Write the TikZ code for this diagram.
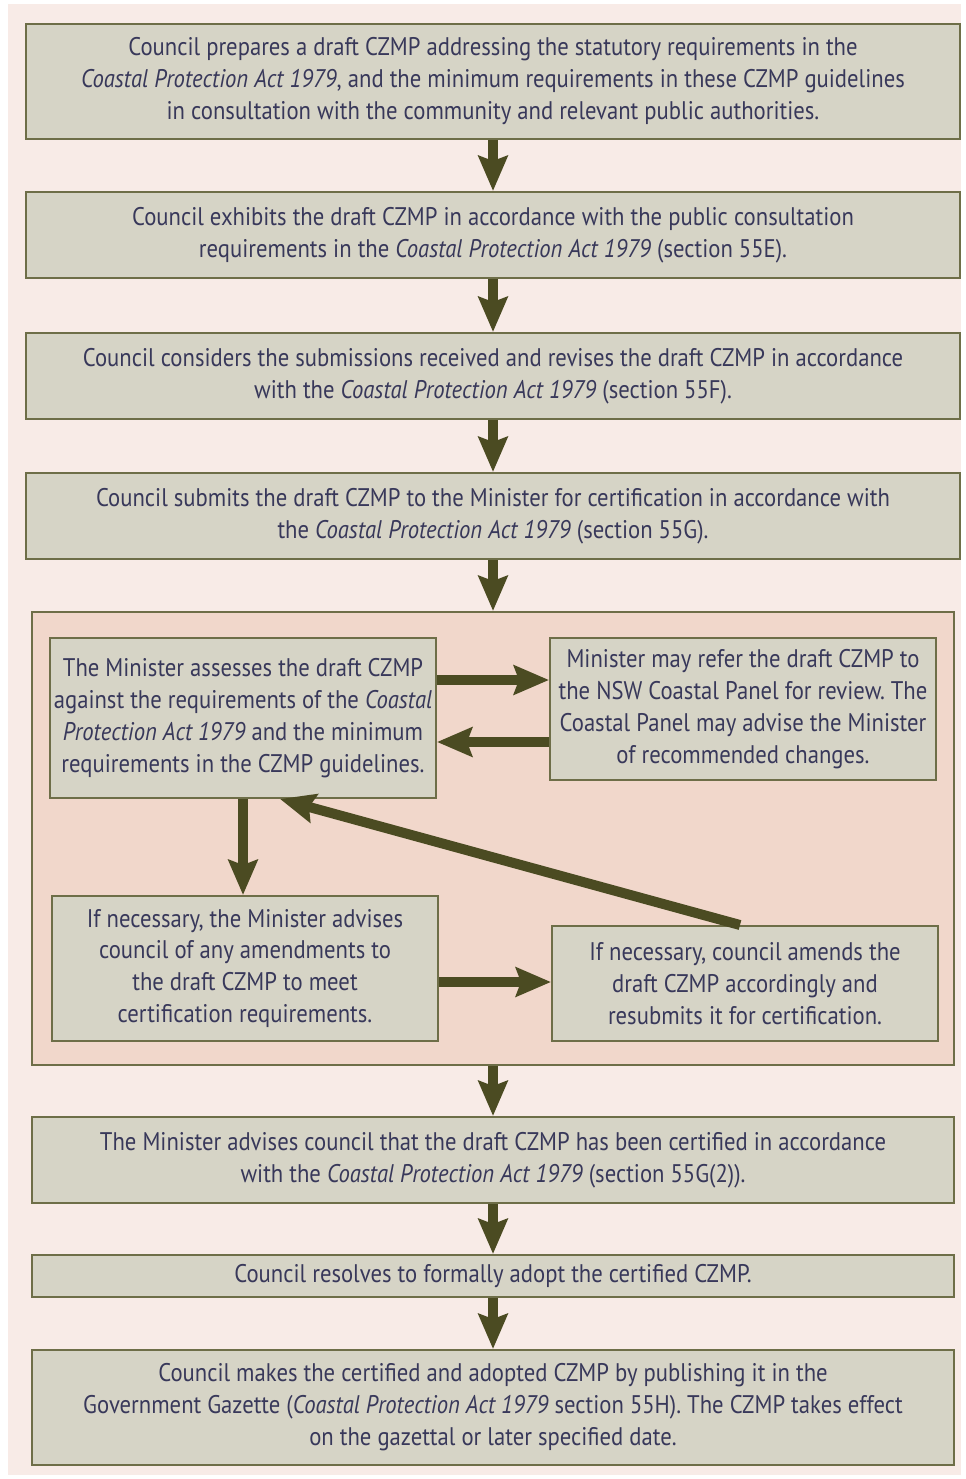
\documentclass[tikz,border=0pt]{standalone}
\usepackage{fontspec}
\setmainfont[FakeStretch=0.89]{PT Sans}
\usetikzlibrary{arrows.meta}
\frenchspacing

\definecolor{pagepink}{HTML}{F8EBE7}
\definecolor{panelpink}{HTML}{F1D7CB}
\definecolor{boxfill}{HTML}{D6D4C6}
\definecolor{boxline}{HTML}{6E6E48}
\definecolor{arrowcol}{HTML}{4B4B22}
\definecolor{textcol}{HTML}{38385A}

\tikzset{
    stepbox/.style={draw=boxline, fill=boxfill, line width=0.04cm, align=center,
        inner sep=0pt, text=textcol, font=\fontsize{14.5pt}{18.2pt}\selectfont},
    flow/.style={draw=arrowcol, line width=0.2cm,
        -{Stealth[length=0.7cm, width=0.58cm, inset=0.1cm]}}
}

\begin{document}
\begin{tikzpicture}[x=0.02cm, y=-0.02cm]

    \def\act{\textit{Coastal Protection Act 1979}}

    %background:
    \useasboundingbox (0,0) rectangle (965,1479);
    \fill[white] (0,0) rectangle (965,1479);
    \fill[pagepink] (8,4) rectangle (961,1475);

    %main steps:
    \node[stepbox, minimum width=934*0.02cm, minimum height=115*0.02cm] (prepare) at (493,81.5)
        {Council prepares a draft CZMP addressing the statutory requirements in the\\
         \act, and the minimum requirements in these CZMP guidelines\\
         in consultation with the community and relevant public authorities.};
    \node[stepbox, minimum width=934*0.02cm, minimum height=86*0.02cm] (exhibit) at (493,235)
        {Council exhibits the draft CZMP in accordance with the public consultation\\
         requirements in the \act{} (section 55E).};
    \node[stepbox, minimum width=934*0.02cm, minimum height=86*0.02cm] (revise) at (493,376)
        {Council considers the submissions received and revises the draft CZMP in accordance\\
         with the \act{} (section 55F).};
    \node[stepbox, minimum width=934*0.02cm, minimum height=86*0.02cm] (submit) at (493,516)
        {Council submits the draft CZMP to the Minister for certification in accordance with\\
         the \act{} (section 55G).};

    %certification loop:
    \node[draw=boxline, fill=panelpink, line width=0.04cm, inner sep=0pt,
        minimum width=922*0.02cm, minimum height=453*0.02cm] (panel) at (493,838.5) {};
    \node[stepbox, minimum width=386*0.02cm, minimum height=160*0.02cm] (assess) at (243,718)
        {The Minister assesses the draft CZMP\\
         against the requirements of the \textit{Coastal}\\
         \textit{Protection Act 1979} and the minimum\\
         requirements in the CZMP guidelines.};
    \node[stepbox, minimum width=386*0.02cm, minimum height=142*0.02cm] (panelrev) at (743,709)
        {Minister may refer the draft CZMP to\\
         the NSW Coastal Panel for review. The\\
         Coastal Panel may advise the Minister\\
         of recommended changes.};
    \node[stepbox, minimum width=386*0.02cm, minimum height=145*0.02cm] (advise) at (245,968.5)
        {If necessary, the Minister advises\\
         council of any amendments to\\
         the draft CZMP to meet\\
         certification requirements.};
    \node[stepbox, minimum width=386*0.02cm, minimum height=115*0.02cm] (amend) at (745,983.5)
        {If necessary, council amends the\\
         draft CZMP accordingly and\\
         resubmits it for certification.};

    %final steps:
    \node[stepbox, minimum width=922*0.02cm, minimum height=86*0.02cm] (certified) at (493,1160)
        {The Minister advises council that the draft CZMP has been certified in accordance\\
         with the \act{} (section 55G(2)).};
    \node[stepbox, minimum width=922*0.02cm, minimum height=42*0.02cm] (adopt) at (493,1276)
        {Council resolves to formally adopt the certified CZMP.};
    \node[stepbox, minimum width=922*0.02cm, minimum height=115*0.02cm] (gazette) at (493,1407.5)
        {Council makes the certified and adopted CZMP by publishing it in the\\
         Government Gazette (\act{} section 55H). The CZMP takes effect\\
         on the gazettal or later specified date.};

    %arrows:
    \draw[flow] (prepare) -- (exhibit);
    \draw[flow] (exhibit) -- (revise);
    \draw[flow] (revise) -- (submit);
    \draw[flow] (submit) -- (panel);
    \draw[flow] (panel) -- (certified);
    \draw[flow] (certified) -- (adopt);
    \draw[flow] (adopt) -- (gazette);

    \coordinate (toref) at (0,680);
    \coordinate (back) at (0,742);
    \coordinate (across) at (0,982);
    \coordinate (tip) at (280,0);
    \coordinate (start) at (740,0);
    \draw[flow] (assess.east |- toref) -- (panelrev.west |- toref);
    \draw[flow] (panelrev.west |- back) -- (assess.east |- back);
    \draw[flow] (assess.south) -- (assess.south |- advise.north);
    \draw[flow] (advise.east |- across) -- (amend.west |- across);
    \draw[flow] (amend.north -| start) -- (assess.south -| tip);

\end{tikzpicture}
\end{document}
